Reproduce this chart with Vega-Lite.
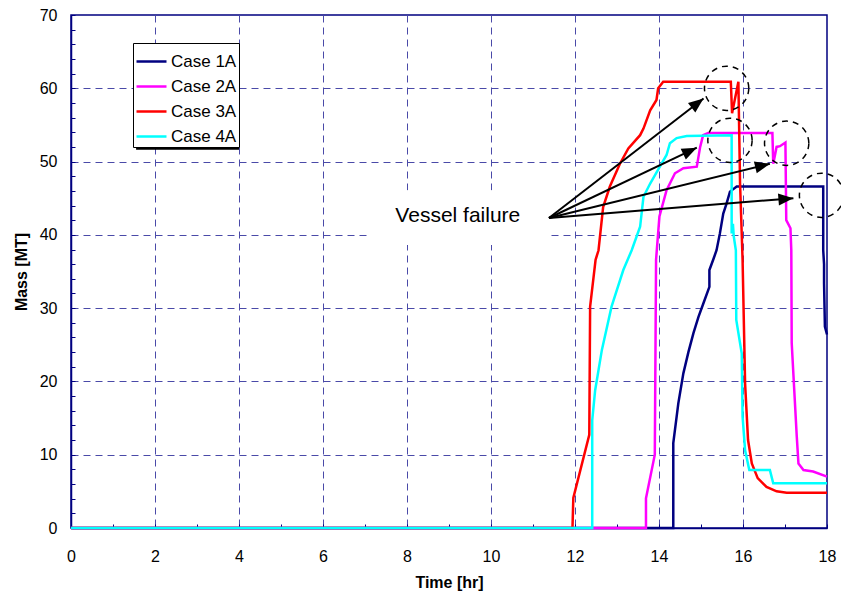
{
  "$schema": "https://vega.github.io/schema/vega-lite/v6.json",
  "width": 756,
  "height": 513,
  "autosize": {"type": "none"},
  "padding": {"left": 71, "top": 15, "right": 14, "bottom": 70},
  "background": "white",
  "view": {"stroke": "#000080", "strokeWidth": 1.5},
  "config": {
    "font": "Liberation Sans",
    "axis": {
      "labelFont": "Liberation Sans",
      "labelFontSize": 16,
      "labelColor": "black",
      "titleFont": "Liberation Sans",
      "titleFontSize": 16,
      "titleFontWeight": "bold",
      "titleColor": "black",
      "domainColor": "#000080",
      "domainWidth": 1.5,
      "tickColor": "#000080",
      "tickWidth": 1,
      "tickSize": -4,
      "tickCount": 100,
      "gridDash": [7, 5],
      "gridWidth": 1
    },
    "legend": {
      "labelFont": "Liberation Sans",
      "labelFontSize": 17,
      "labelColor": "black"
    }
  },
  "datasets": {
    "series": [
      {"case": "Case 1A", "t": 0, "m": 0},
      {"case": "Case 1A", "t": 14.34, "m": 0},
      {"case": "Case 1A", "t": 14.34, "m": 11.6},
      {"case": "Case 1A", "t": 14.46, "m": 17},
      {"case": "Case 1A", "t": 14.58, "m": 21.1},
      {"case": "Case 1A", "t": 14.7, "m": 24},
      {"case": "Case 1A", "t": 14.82, "m": 26.6},
      {"case": "Case 1A", "t": 14.94, "m": 28.8},
      {"case": "Case 1A", "t": 15.06, "m": 30.7},
      {"case": "Case 1A", "t": 15.2, "m": 32.9},
      {"case": "Case 1A", "t": 15.2, "m": 35.2},
      {"case": "Case 1A", "t": 15.29, "m": 36.6},
      {"case": "Case 1A", "t": 15.37, "m": 37.9},
      {"case": "Case 1A", "t": 15.45, "m": 40.2},
      {"case": "Case 1A", "t": 15.53, "m": 42.9},
      {"case": "Case 1A", "t": 15.61, "m": 44.3},
      {"case": "Case 1A", "t": 15.69, "m": 45.9},
      {"case": "Case 1A", "t": 15.85, "m": 46.6},
      {"case": "Case 1A", "t": 17.91, "m": 46.6},
      {"case": "Case 1A", "t": 17.91, "m": 37.9},
      {"case": "Case 1A", "t": 17.93, "m": 36},
      {"case": "Case 1A", "t": 17.93, "m": 33.4},
      {"case": "Case 1A", "t": 17.95, "m": 27.5},
      {"case": "Case 1A", "t": 18, "m": 26.4},
      {"case": "Case 2A", "t": 0, "m": 0},
      {"case": "Case 2A", "t": 13.69, "m": 0},
      {"case": "Case 2A", "t": 13.69, "m": 4.05},
      {"case": "Case 2A", "t": 13.9, "m": 10},
      {"case": "Case 2A", "t": 13.93, "m": 36.6},
      {"case": "Case 2A", "t": 14.01, "m": 42.5},
      {"case": "Case 2A", "t": 14.18, "m": 46.1},
      {"case": "Case 2A", "t": 14.38, "m": 48.4},
      {"case": "Case 2A", "t": 14.58, "m": 49.1},
      {"case": "Case 2A", "t": 14.9, "m": 49.3},
      {"case": "Case 2A", "t": 14.98, "m": 52},
      {"case": "Case 2A", "t": 15.05, "m": 53.6},
      {"case": "Case 2A", "t": 15.17, "m": 53.9},
      {"case": "Case 2A", "t": 16.7, "m": 53.9},
      {"case": "Case 2A", "t": 16.72, "m": 49.7},
      {"case": "Case 2A", "t": 16.8, "m": 52},
      {"case": "Case 2A", "t": 16.88, "m": 52.1},
      {"case": "Case 2A", "t": 17.01, "m": 52.6},
      {"case": "Case 2A", "t": 17.03, "m": 42},
      {"case": "Case 2A", "t": 17.13, "m": 40.9},
      {"case": "Case 2A", "t": 17.15, "m": 37.9},
      {"case": "Case 2A", "t": 17.16, "m": 25.2},
      {"case": "Case 2A", "t": 17.28, "m": 12.5},
      {"case": "Case 2A", "t": 17.32, "m": 8.8},
      {"case": "Case 2A", "t": 17.44, "m": 7.9},
      {"case": "Case 2A", "t": 17.67, "m": 7.7},
      {"case": "Case 2A", "t": 18, "m": 7.0},
      {"case": "Case 3A", "t": 0, "m": 0},
      {"case": "Case 3A", "t": 11.94, "m": 0},
      {"case": "Case 3A", "t": 11.96, "m": 4.1},
      {"case": "Case 3A", "t": 12.34, "m": 12.7},
      {"case": "Case 3A", "t": 12.36, "m": 30.2},
      {"case": "Case 3A", "t": 12.49, "m": 36.6},
      {"case": "Case 3A", "t": 12.56, "m": 37.9},
      {"case": "Case 3A", "t": 12.67, "m": 43.8},
      {"case": "Case 3A", "t": 12.83, "m": 46.6},
      {"case": "Case 3A", "t": 13.07, "m": 49.7},
      {"case": "Case 3A", "t": 13.27, "m": 51.8},
      {"case": "Case 3A", "t": 13.55, "m": 53.6},
      {"case": "Case 3A", "t": 13.63, "m": 54.5},
      {"case": "Case 3A", "t": 13.79, "m": 57.0},
      {"case": "Case 3A", "t": 13.94, "m": 58.4},
      {"case": "Case 3A", "t": 13.98, "m": 60.0},
      {"case": "Case 3A", "t": 14.1, "m": 60.9},
      {"case": "Case 3A", "t": 15.71, "m": 60.9},
      {"case": "Case 3A", "t": 15.74, "m": 56.6},
      {"case": "Case 3A", "t": 15.89, "m": 60.9},
      {"case": "Case 3A", "t": 15.93, "m": 47},
      {"case": "Case 3A", "t": 15.99, "m": 36.6},
      {"case": "Case 3A", "t": 16.05, "m": 19.7},
      {"case": "Case 3A", "t": 16.12, "m": 12},
      {"case": "Case 3A", "t": 16.21, "m": 8.8},
      {"case": "Case 3A", "t": 16.35, "m": 6.8},
      {"case": "Case 3A", "t": 16.56, "m": 5.6},
      {"case": "Case 3A", "t": 16.8, "m": 5.0},
      {"case": "Case 3A", "t": 17.04, "m": 4.8},
      {"case": "Case 3A", "t": 18, "m": 4.8},
      {"case": "Case 4A", "t": 0, "m": 0},
      {"case": "Case 4A", "t": 12.41, "m": 0},
      {"case": "Case 4A", "t": 12.41, "m": 14.7},
      {"case": "Case 4A", "t": 12.48, "m": 18.8},
      {"case": "Case 4A", "t": 12.64, "m": 24.3},
      {"case": "Case 4A", "t": 12.87, "m": 30.2},
      {"case": "Case 4A", "t": 13.15, "m": 35.2},
      {"case": "Case 4A", "t": 13.35, "m": 37.9},
      {"case": "Case 4A", "t": 13.55, "m": 41.1},
      {"case": "Case 4A", "t": 13.63, "m": 45.2},
      {"case": "Case 4A", "t": 13.79, "m": 47},
      {"case": "Case 4A", "t": 14.02, "m": 49.3},
      {"case": "Case 4A", "t": 14.18, "m": 50.9},
      {"case": "Case 4A", "t": 14.26, "m": 52.5},
      {"case": "Case 4A", "t": 14.42, "m": 53.2},
      {"case": "Case 4A", "t": 14.66, "m": 53.5},
      {"case": "Case 4A", "t": 15.73, "m": 53.6},
      {"case": "Case 4A", "t": 15.73, "m": 40.2},
      {"case": "Case 4A", "t": 15.76, "m": 41.5},
      {"case": "Case 4A", "t": 15.78, "m": 39.8},
      {"case": "Case 4A", "t": 15.83, "m": 37.9},
      {"case": "Case 4A", "t": 15.84, "m": 28.4},
      {"case": "Case 4A", "t": 15.97, "m": 23.8},
      {"case": "Case 4A", "t": 15.99, "m": 15.2},
      {"case": "Case 4A", "t": 16.05, "m": 10.6},
      {"case": "Case 4A", "t": 16.15, "m": 7.9},
      {"case": "Case 4A", "t": 16.64, "m": 7.9},
      {"case": "Case 4A", "t": 16.72, "m": 6.1},
      {"case": "Case 4A", "t": 18, "m": 6.1}
    ],
    "arrows": [
      {"t": 11.38, "m": 42.3, "t2": 15.06, "m2": 58.6},
      {"t": 11.38, "m": 42.3, "t2": 14.9, "m2": 51.9},
      {"t": 11.38, "m": 42.3, "t2": 16.64, "m2": 49.7},
      {"t": 11.38, "m": 42.3, "t2": 17.2, "m2": 45.0}
    ],
    "circles": [
      {"t": 15.61, "m": 60.0},
      {"t": 15.69, "m": 52.9},
      {"t": 17.04, "m": 52.5},
      {"t": 17.87, "m": 45.4}
    ],
    "box": [
      {"kind": "label backing", "t": 7.12, "m": 38.6, "t2": 11.4, "m2": 46.1},
      {"kind": "legend shadow", "t": 1.55, "m": 51.6, "t2": 4.0, "m2": 65.7}
    ],
    "label": [
      {"t": 9.21, "m": 42.6, "text": "Vessel failure"}
    ]
  },
  "layer": [
    {
      "data": {"name": "box"},
      "mark": {"type": "rect"},
      "encoding": {
        "x": {
          "field": "t", "type": "quantitative",
          "scale": {"domain": [0, 18], "nice": false, "zero": true},
          "axis": {
            "title": "Time [hr]",
            "values": [0,0.5,1,1.5,2,2.5,3,3.5,4,4.5,5,5.5,6,6.5,7,7.5,8,8.5,9,9.5,10,10.5,11,11.5,12,12.5,13,13.5,14,14.5,15,15.5,16,16.5,17,17.5,18],
            "tickCount": 100,
            "format": "d",
            "labelExpr": "datum.value % 2 === 0 ? datum.label : ''",
            "gridColor": {"condition": {"test": "datum.value % 2 === 0 && datum.value > 0 && datum.value < 18", "value": "#4A4AA8"}, "value": "transparent"},
            "labelPadding": 24,
            "labelFlush": false,
            "labelOverlap": false,
            "titlePadding": 10
          }
        },
        "x2": {"field": "t2"},
        "y": {
          "field": "m", "type": "quantitative",
          "scale": {"domain": [0, 70], "nice": false},
          "axis": {
            "title": "Mass [MT]",
            "values": [0,2,4,6,8,10,12,14,16,18,20,22,24,26,28,30,32,34,36,38,40,42,44,46,48,50,52,54,56,58,60,62,64,66,68,70],
            "tickCount": 100,
            "format": "d",
            "labelExpr": "datum.value % 10 === 0 ? datum.label : ''",
            "gridColor": {"condition": {"test": "datum.value % 10 === 0 && datum.value > 0 && datum.value < 70", "value": "#4A4AA8"}, "value": "transparent"},
            "labelPadding": 18,
            "labelFlush": false,
            "labelOverlap": false,
            "titlePadding": 10
          }
        },
        "y2": {"field": "m2"},
        "color": {
          "field": "kind", "type": "nominal",
          "scale": {"domain": ["label backing", "legend shadow"], "range": ["white", "black"]},
          "legend": null
        }
      }
    },
    {
      "data": {"name": "series"},
      "mark": {"type": "line", "strokeWidth": 2.5, "interpolate": "linear"},
      "encoding": {
        "x": {"field": "t", "type": "quantitative"},
        "y": {"field": "m", "type": "quantitative"},
        "stroke": {
          "field": "case", "type": "nominal",
          "scale": {"domain": ["Case 1A", "Case 2A", "Case 3A", "Case 4A"], "range": ["#000080", "#FF00FF", "#FF0000", "#00FFFF"]},
          "legend": {
            "title": null,
            "orient": "none",
            "legendX": 62,
            "legendY": 28,
            "symbolType": "stroke",
            "symbolSize": 900,
            "symbolStrokeWidth": 2.5,
            "labelOffset": 3,
            "rowPadding": 0,
            "padding": 2,
            "fillColor": "white",
            "strokeColor": "black"
          }
        }
      }
    },
    {
      "data": {"name": "arrows"},
      "mark": {"type": "rule", "color": "black", "strokeWidth": 2},
      "encoding": {
        "x": {"field": "t", "type": "quantitative"},
        "y": {"field": "m", "type": "quantitative"},
        "x2": {"field": "t2"},
        "y2": {"field": "m2"}
      }
    },
    {
      "data": {"name": "arrows"},
      "transform": [
        {"calculate": "atan2((datum.t2 - datum.t) * 756 / 18, (datum.m2 - datum.m) * 513 / 70) * 180 / PI", "as": "angle"}
      ],
      "mark": {"type": "point", "shape": "M0,0L0.4,1L-0.4,1Z", "filled": true, "color": "black", "opacity": 1, "size": 900},
      "encoding": {
        "x": {"field": "t2", "type": "quantitative"},
        "y": {"field": "m2", "type": "quantitative"},
        "angle": {"field": "angle", "type": "quantitative", "scale": null}
      }
    },
    {
      "data": {"name": "circles"},
      "mark": {"type": "point", "shape": "circle", "filled": false, "stroke": "black", "strokeWidth": 1.5, "strokeDash": [6, 5], "opacity": 1, "size": 1963},
      "encoding": {
        "x": {"field": "t", "type": "quantitative"},
        "y": {"field": "m", "type": "quantitative"}
      }
    },
    {
      "data": {"name": "label"},
      "mark": {"type": "text", "font": "Liberation Sans", "fontSize": 21, "align": "center", "baseline": "middle", "color": "black"},
      "encoding": {
        "x": {"field": "t", "type": "quantitative"},
        "y": {"field": "m", "type": "quantitative"},
        "text": {"field": "text"}
      }
    }
  ]
}
